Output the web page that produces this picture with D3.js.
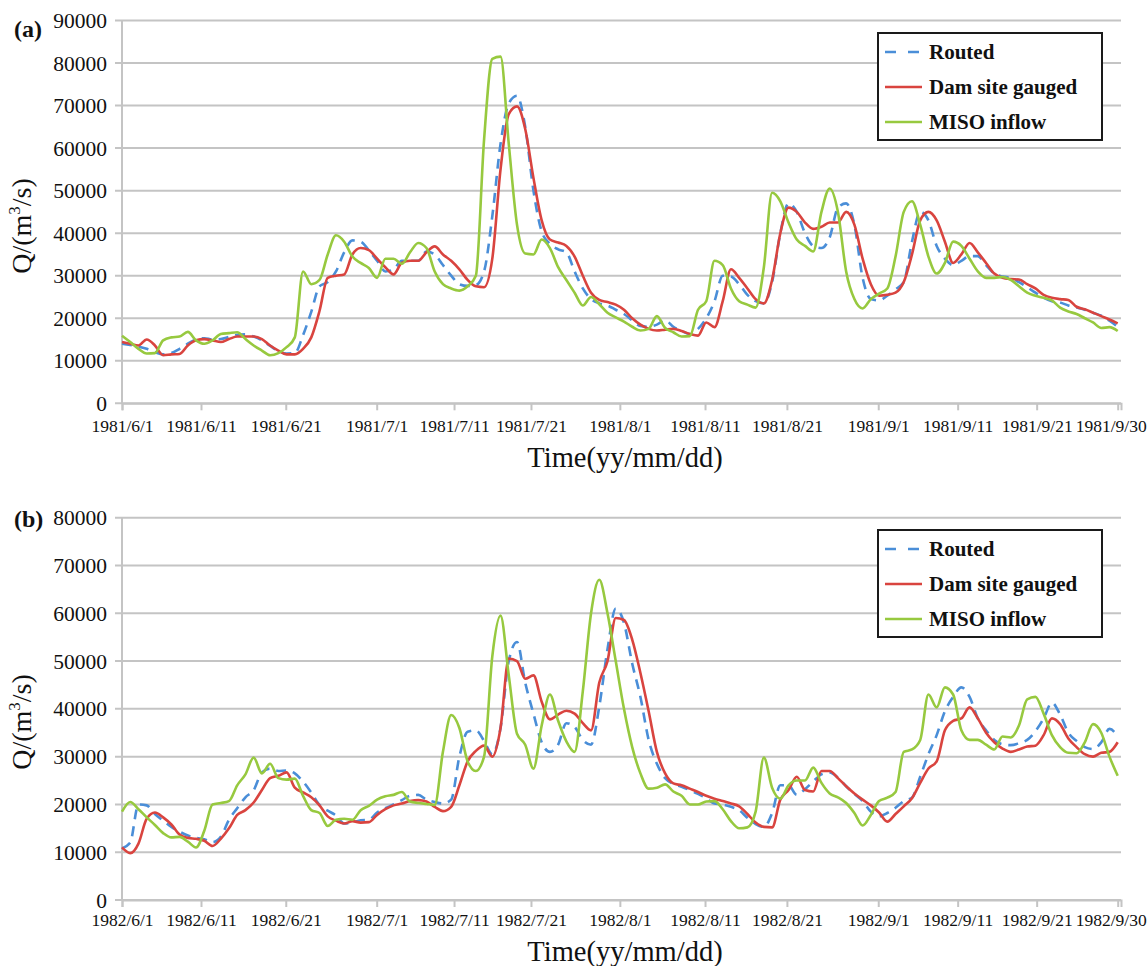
<!DOCTYPE html>
<html>
<head>
<meta charset="utf-8">
<script src="https://cdn.jsdelivr.net/npm/d3@7"></script>
<style>
  body { margin: 0; background: #fff; }
</style>
</head>
<body>
<svg id="chart" width="1147" height="966"></svg>
<script>
// Daily discharge, 1 June – 30 September (day index 0..121)
// Date ticks, in day offsets from 1 June, as marked on the time axis
const tickDays = [0, 9.6, 19.9, 30.95, 40.35, 49.7, 60.5, 70.85, 80.8, 91.9, 101.55, 111.15, 121];
const tickLabelsA = ["1981/6/1", "1981/6/11", "1981/6/21", "1981/7/1", "1981/7/11", "1981/7/21", "1981/8/1", "1981/8/11", "1981/8/21", "1981/9/1", "1981/9/11", "1981/9/21", "1981/9/30"];
const tickLabelsB = ["1982/6/1", "1982/6/11", "1982/6/21", "1982/7/1", "1982/7/11", "1982/7/21", "1982/8/1", "1982/8/11", "1982/8/21", "1982/9/1", "1982/9/11", "1982/9/21", "1982/9/30"];
const seriesNames = ["Routed", "Dam site gauged", "MISO inflow"];
const seriesColors = ["#4a8ed8", "#d9443f", "#97c93f"];

// 1981 flood season
const routedA = [
  14000,13700,13300,12800,12000,11500,11800,12800,14000,15000,
  15300,15000,15100,15600,16100,16200,15700,14800,13500,12300,
  11700,11800,16000,21500,27500,28500,31000,35500,38300,38000,
  36000,33500,31000,31500,33500,33500,33500,35700,35000,32500,
  30000,28000,27600,27800,31000,44000,61000,70500,72300,65000,
  50000,40400,37500,36200,35500,31000,27000,24500,23500,23000,
  22000,21000,19500,18200,18000,18500,19500,18000,17000,16300,
  17500,20000,24000,30000,29800,28000,25500,24000,23500,28500,
  40000,47000,45000,40000,37000,36500,39000,46000,47000,42000,
  29500,24500,24200,25300,26800,28500,38000,45000,43000,37000,
  34000,32500,33500,34600,34600,32500,30500,29800,29500,28500,
  27300,26000,24800,24000,23700,23000,22500,22000,21300,20600,
  19400,18000
];
const gaugedA = [
  14400,14000,13600,15000,13600,11300,11500,11600,13600,14800,
  15100,14800,14400,15100,15700,15700,15700,15100,13600,12400,
  11500,11500,12800,15500,21700,29500,30000,30300,35000,36500,
  36000,34000,32000,30300,33000,33500,33500,35500,36900,35000,
  33500,31500,29000,27500,27300,34000,55000,68000,69800,64500,
  53000,43000,38500,37800,37000,34500,30000,26000,24300,23800,
  23200,22000,20000,18500,17500,17100,17300,17500,17000,16300,
  15900,19000,17900,24000,31500,29500,27000,24500,23500,29000,
  40000,46000,45000,42500,41000,41500,42500,42500,45000,42000,
  34000,28000,25300,25500,26000,28500,35000,43000,45000,43000,
  38000,33000,35000,37700,35500,33000,30500,29500,29200,29100,
  28000,27000,25500,24800,24500,24300,22700,22100,21300,20500,
  19700,18800
];
const misoA = [
  15900,14400,12800,11700,11800,14800,15500,15700,16800,14800,
  14000,14800,16300,16500,16700,15100,13600,12400,11300,11800,
  13200,15500,31000,28000,29000,35000,39500,38000,34500,33000,
  31800,29500,34000,34000,32800,35500,37700,36500,31000,28000,
  27000,26500,27500,30000,62000,81000,81500,61000,42000,35200,
  35000,38500,36500,32000,29000,26000,23000,25000,23300,21300,
  20200,19200,18000,17100,17500,20500,17700,16700,15700,15800,
  22000,24000,33500,32500,27000,24000,23200,22500,32000,49500,
  47500,42500,38500,37000,35700,45000,50500,45000,31000,24500,
  22300,24500,25800,27000,34500,45000,47500,42000,34500,30500,
  33000,38000,37000,34000,31000,29500,29500,29700,29000,27500,
  26000,25300,24800,24200,22500,21600,21000,20000,19000,17700,
  17900,17000
];

// 1982 flood season
const routedB = [
  10800,12000,20000,19800,18000,16600,15300,14300,13500,13000,
  12700,12100,13200,16800,19200,21500,23000,26700,27500,27000,
  27100,26500,24800,22500,19900,18700,17700,16000,16200,16700,
  16800,18300,19200,20000,20900,21800,22000,21000,20500,20200,
  21000,30000,35200,35500,33300,30500,36000,50000,54000,45500,
  39000,33000,31000,32500,37000,36200,33500,32500,40500,52500,
  61000,58000,49500,42500,33500,28500,25500,24300,23700,23000,
  22200,21300,20200,20000,19500,18800,17200,15900,15300,18200,
  24000,24000,22000,23200,24800,26300,26700,25600,23800,22200,
  20700,18500,17500,18200,19300,20700,21400,25800,30500,34500,
  39500,42500,44500,42500,38000,35500,33500,32600,32400,32800,
  33500,35300,38000,41300,38800,35000,33300,32000,31600,33000,
  35800,34300
];
const gaugedB = [
  11000,9800,11800,17000,18300,17300,15800,13700,13000,12800,
  12400,11300,12800,15000,17800,18800,20400,23000,25500,26000,
  26700,23500,22500,21500,19800,17500,16600,16000,16500,16200,
  16300,17800,19000,19800,20200,20700,20900,20600,19500,18600,
  19500,24000,29000,31200,32300,30000,36000,50500,50000,46300,
  47000,41500,37800,38800,39600,39000,37000,35500,45500,50000,
  59000,58600,54500,47500,39500,31000,26500,24400,24000,23300,
  22600,21800,21200,20700,20200,19600,18000,16200,15300,15200,
  21000,23000,25800,23000,22700,27000,27000,25500,23800,22300,
  21000,19800,18300,16400,18000,19600,21300,24500,27500,29000,
  35500,37500,38000,40300,38000,35000,33000,31700,31000,31500,
  32100,32300,34500,38000,36800,33800,32000,30500,30000,30800,
  31000,33000
];
const misoB = [
  18500,20500,19000,17300,15700,14000,13100,13200,12200,11000,
  14500,20000,20300,20700,24000,26300,29800,26500,28500,25500,
  25200,25400,21800,18800,18200,15500,16800,17000,16800,18800,
  19700,21000,21700,22000,22600,20600,20300,20100,19900,31000,
  38700,36000,29000,27000,30000,51000,59500,47000,34800,32500,
  27500,36500,43000,37500,33200,31000,43700,60000,67000,60000,
  50000,40000,32000,26500,23300,23500,24200,22700,21800,20000,
  20000,20600,20700,19000,16500,15000,15200,18500,29800,23500,
  21200,24000,25000,25000,27700,24500,22300,21500,20300,18200,
  15600,17800,20700,21400,22600,31000,31500,33500,43000,40300,
  44500,43000,35500,33500,33500,32500,31500,34200,34000,36500,
  42000,42500,39000,34500,32000,30800,30700,33000,36800,35000,
  30000,26000
];

const SERIF = "'Liberation Serif', 'Times New Roman', Tinos, 'DejaVu Serif', serif";
const svg = d3.select("#chart");
svg.append("rect").attr("width", 1147).attr("height", 966).attr("fill", "#fff");

const gridColor = "#c4c4c4";
const plotLeft = 122, plotRight = 1121;

function serifText(sel, size, bold) {
  return sel.style("font-family", SERIF).style("font-size", size + "px")
    .style("font-weight", bold ? "bold" : "normal").style("fill", "#111");
}

function drawPanel(p) {
  const g = svg.append("g");
  const x = d3.scaleLinear().domain([0, 121.4]).range([plotLeft, plotRight]);
  const y = d3.scaleLinear().domain([0, p.yMax]).range([p.yZero, p.yTop]);

  // horizontal gridlines with outside tick stubs on the value axis
  const yTicks = d3.range(0, p.yMax + 1, 10000);
  g.append("g").selectAll("line").data(yTicks).join("line")
    .attr("x1", plotLeft - 7).attr("x2", plotRight)
    .attr("y1", d => y(d)).attr("y2", d => y(d))
    .attr("stroke", gridColor).attr("stroke-width", 2);

  // value axis line
  g.append("line").attr("x1", plotLeft).attr("x2", plotLeft)
    .attr("y1", y(p.yMax)).attr("y2", y(0))
    .attr("stroke", gridColor).attr("stroke-width", 2);

  // value axis labels
  serifText(g.append("g").selectAll("text").data(yTicks).join("text")
    .attr("x", 107).attr("y", d => y(d)).attr("dy", "0.35em")
    .attr("text-anchor", "end")
    .text(d => d), 21.5);

  // time axis
  const xAxis = d3.axisBottom(x).tickValues(tickDays)
    .tickFormat((d, i) => p.labels[i]).tickSize(7).tickPadding(p.tickPad);
  const ax = g.append("g").attr("transform", `translate(0,${y(0)})`).call(xAxis);
  ax.select(".domain").attr("stroke", gridColor).attr("stroke-width", 2);
  ax.selectAll(".tick line").attr("stroke", gridColor).attr("stroke-width", 2);
  serifText(ax.selectAll(".tick text"), 17.5);
  // keep the last date label inside the page edge
  ax.selectAll(".tick text").filter((d, i) => i === tickDays.length - 1)
    .attr("text-anchor", "end").attr("x", 28.5);

  // series lines
  const line = d3.line().x((d, i) => x(i)).y(d => y(d)).curve(d3.curveMonotoneX);
  p.series.forEach((s, k) => {
    g.append("path").datum(s).attr("d", line)
      .attr("fill", "none").attr("stroke", seriesColors[k])
      .attr("stroke-width", 2.6).attr("stroke-linejoin", "round")
      .attr("stroke-dasharray", k === 0 ? "10,7" : null);
  });

  // legend
  const lg = g.append("g");
  lg.append("rect").attr("x", 878).attr("y", p.legendTop)
    .attr("width", 224).attr("height", 107)
    .attr("fill", "#fff").attr("stroke", "#1a1a1a").attr("stroke-width", 2);
  seriesNames.forEach((name, k) => {
    const cy = p.legendTop + 19 + k * 35;
    lg.append("line").attr("x1", 885).attr("x2", 922).attr("y1", cy).attr("y2", cy)
      .attr("stroke", seriesColors[k]).attr("stroke-width", 2.6)
      .attr("stroke-dasharray", k === 0 ? "11,12" : null);
    serifText(lg.append("text").attr("x", 929).attr("y", cy).attr("dy", "0.33em")
      .text(name), 21, true);
  });

  // panel tag
  serifText(g.append("text").attr("x", 14).attr("y", p.tagY).text(p.tag), 24, true);

  // value axis title
  const yt = serifText(g.append("text")
    .attr("transform", `translate(31,${p.yTitleY}) rotate(-90)`)
    .attr("text-anchor", "middle"), 28);
  yt.append("tspan").text("Q/(m");
  yt.append("tspan").style("font-size", "17px").attr("dy", -11).text("3");
  yt.append("tspan").attr("dy", 11).text("/s)");

  // time axis title
  serifText(g.append("text").attr("x", 625).attr("y", p.xTitleY)
    .attr("text-anchor", "middle").text("Time(yy/mm/dd)"), 28.5);
}

drawPanel({
  yMax: 90000, yZero: 403.3, yTop: 20.5, labels: tickLabelsA, tickPad: 9,
  series: [routedA, gaugedA, misoA], legendTop: 33, tag: "(a)", tagY: 37,
  yTitleY: 226, xTitleY: 467
});
drawPanel({
  yMax: 80000, yZero: 900, yTop: 517.7, labels: tickLabelsB, tickPad: 7,
  series: [routedB, gaugedB, misoB], legendTop: 530, tag: "(b)", tagY: 527,
  yTitleY: 722, xTitleY: 961
});
</script>
</body>
</html>
